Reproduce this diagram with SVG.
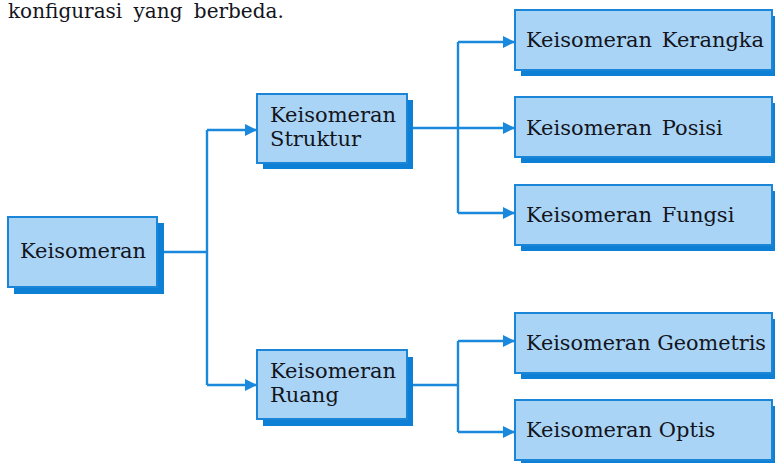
<svg xmlns="http://www.w3.org/2000/svg" width="775" height="463" viewBox="0 0 775 463">
<defs>
<style>
.box{fill:#a9d4f6;stroke:#1b86d8;stroke-width:2}
.sh{fill:#0d7fd5}
.t{font-family:"DejaVu Serif","Liberation Serif",serif;font-size:21px;fill:#14141c}
.ln{fill:none;stroke:#1a88dc;stroke-width:2.4}
</style>
<marker id="ah" viewBox="0 0 12 12" refX="12" refY="6" markerWidth="12" markerHeight="12" markerUnits="userSpaceOnUse" orient="auto">
<path d="M0 0 L12 6 L0 12 Z" fill="#1a88dc"/>
</marker>
</defs>
<rect width="775" height="463" fill="#ffffff"/>
<text class="t" x="8" y="18" style="font-size:20px" word-spacing="5">konfigurasi yang berbeda.</text>
<g id="connectors">
<path class="ln" d="M164 252 H207"/>
<path class="ln" d="M207 130 V385"/>
<path class="ln" d="M207 130 H257" marker-end="url(#ah)"/>
<path class="ln" d="M207 385 H257" marker-end="url(#ah)"/>
<path class="ln" d="M413 128 H458"/>
<path class="ln" d="M458 42 V213"/>
<path class="ln" d="M458 42 H515" marker-end="url(#ah)"/>
<path class="ln" d="M458 128 H515" marker-end="url(#ah)"/>
<path class="ln" d="M458 213 H515" marker-end="url(#ah)"/>
<path class="ln" d="M413 385 H458"/>
<path class="ln" d="M458 341 V432"/>
<path class="ln" d="M458 341 H515" marker-end="url(#ah)"/>
<path class="ln" d="M458 432 H515" marker-end="url(#ah)"/>
</g>
<g id="keisomeran">
<rect class="sh" x="14" y="223" width="150" height="71"/>
<rect class="box" x="8" y="217" width="149" height="70"/>
<text class="t" x="20" y="258">Keisomeran</text>
</g>
<g id="struktur">
<rect class="sh" x="263" y="100" width="150" height="69"/>
<rect class="box" x="257" y="94" width="150" height="69"/>
<text class="t" x="270" y="122">Keisomeran</text>
<text class="t" x="270" y="146">Struktur</text>
</g>
<g id="ruang">
<rect class="sh" x="263" y="357" width="150" height="69"/>
<rect class="box" x="257" y="350" width="150" height="69"/>
<text class="t" x="270" y="378">Keisomeran</text>
<text class="t" x="270" y="402">Ruang</text>
</g>
<g id="kerangka">
<rect class="sh" x="521" y="16" width="256" height="60"/>
<rect class="box" x="515" y="10" width="257" height="60"/>
<text class="t" x="526" y="47" word-spacing="3">Keisomeran Kerangka</text>
</g>
<g id="posisi">
<rect class="sh" x="521" y="103" width="256" height="60"/>
<rect class="box" x="515" y="97" width="257" height="60"/>
<text class="t" x="526" y="135" word-spacing="3">Keisomeran Posisi</text>
</g>
<g id="fungsi">
<rect class="sh" x="521" y="191" width="256" height="60"/>
<rect class="box" x="515" y="185" width="257" height="60"/>
<text class="t" x="526" y="222" word-spacing="3">Keisomeran Fungsi</text>
</g>
<g id="geometris">
<rect class="sh" x="521" y="319" width="256" height="60"/>
<rect class="box" x="515" y="313" width="257" height="60"/>
<text class="t" x="526" y="350" textLength="240" lengthAdjust="spacingAndGlyphs">Keisomeran Geometris</text>
</g>
<g id="optis">
<rect class="sh" x="521" y="406" width="256" height="60"/>
<rect class="box" x="515" y="400" width="257" height="60"/>
<text class="t" x="526" y="437">Keisomeran Optis</text>
</g>
</svg>
